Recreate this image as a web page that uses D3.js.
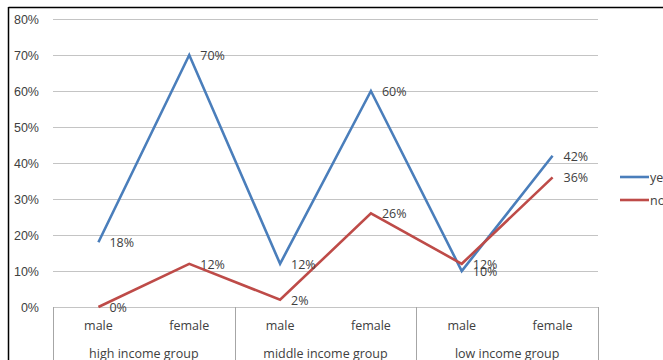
<!DOCTYPE html>
<html>
<head>
<meta charset="utf-8">
<script src="https://cdn.jsdelivr.net/npm/d3@7"></script>
<style>
  html, body { margin: 0; padding: 0; background: #fff; overflow: hidden; }
  svg { display: block; font-family: "Open Sans", "Liberation Sans", sans-serif; }
</style>
</head>
<body>
<svg id="chart" width="663" height="360"></svg>
<script>
// Survey answers by gender within income group
const groups = ["high income group", "middle income group", "low income group"];
const genders = ["male", "female"];
const categories = ["high|male", "high|female", "middle|male", "middle|female", "low|male", "low|female"];
const yesValues = [18, 70, 12, 60, 10, 42];
const noValues = [0, 12, 2, 26, 12, 36];
const yTicks = [0, 10, 20, 30, 40, 50, 60, 70, 80];
const seriesNames = ["yes", "no"];

const colors = { yes: "#4a7ebb", no: "#be4b48" };
const textColor = "#404040";

const svg = d3.select("#chart");
const plot = { left: 53, right: 598, top: 19, bottom: 307 };

const x = d3.scaleBand().domain(categories).range([plot.left, plot.right]).padding(0);
const y = d3.scaleLinear().domain([0, 80]).range([plot.bottom, plot.top]);
const cx = c => x(c) + x.bandwidth() / 2;

// Outer frame (top and left edges visible)
svg.append("line").attr("x1", 8.5).attr("x2", 663).attr("y1", 7.5).attr("y2", 7.5)
  .attr("stroke", "#000").attr("stroke-width", 1.5);
svg.append("line").attr("x1", 8.5).attr("x2", 8.5).attr("y1", 7).attr("y2", 360)
  .attr("stroke", "#000").attr("stroke-width", 1.5);

// Gridlines and y axis labels
const yAxis = d3.axisLeft(y).tickValues(yTicks).tickFormat(d => d + "%")
  .tickSize(-(plot.right - plot.left)).tickPadding(14);
const gy = svg.append("g").attr("transform", `translate(${plot.left},0)`).call(yAxis);
gy.select(".domain").remove();
gy.selectAll(".tick line").attr("stroke", "#c4c4c4").attr("stroke-width", 1.2);
gy.selectAll(".tick text").attr("fill", textColor).attr("font-size", 12.5);

// Category axis: group separators
const sepXs = [0, 2, 4].map(i => x(categories[i])).concat([plot.right]);
svg.selectAll(".sep").data(sepXs).join("line")
  .attr("x1", d => Math.round(d) + 0.5).attr("x2", d => Math.round(d) + 0.5)
  .attr("y1", plot.bottom).attr("y2", 360)
  .attr("stroke", "#a6a6a6").attr("stroke-width", 1);

// Gender labels
svg.selectAll(".cat").data(categories).join("text")
  .attr("x", d => cx(d)).attr("y", 330)
  .attr("text-anchor", "middle").attr("fill", textColor).attr("font-size", 12.5)
  .text(d => d.split("|")[1]);

// Group labels
svg.selectAll(".grp").data(groups).join("text")
  .attr("x", (d, i) => (x(categories[i * 2]) + x(categories[i * 2 + 1]) + x.bandwidth()) / 2)
  .attr("y", 358)
  .attr("text-anchor", "middle").attr("fill", textColor).attr("font-size", 12.5)
  .text(d => d);

// Series lines
const line = d3.line().x((d, i) => cx(categories[i])).y(d => y(d));
const series = [
  { name: "yes", values: yesValues },
  { name: "no", values: noValues }
];
series.forEach(s => {
  svg.append("path").datum(s.values).attr("d", line)
    .attr("fill", "none").attr("stroke", colors[s.name]).attr("stroke-width", 2.6)
    .attr("stroke-linejoin", "miter");
});

// Data labels to the right of each point
series.forEach(s => {
  svg.selectAll(".lbl-" + s.name).data(s.values).join("text")
    .attr("x", (d, i) => cx(categories[i]) + 11)
    .attr("y", d => y(d) + 5)
    .attr("fill", textColor).attr("font-size", 12.5)
    .text(d => d + "%");
});

// Legend
seriesNames.forEach((n, i) => {
  const ly = 177 + i * 23;
  svg.append("line").attr("x1", 620).attr("x2", 649).attr("y1", ly).attr("y2", ly)
    .attr("stroke", colors[n]).attr("stroke-width", 2.6);
  svg.append("text").attr("x", 650).attr("y", ly + 4.5)
    .attr("fill", textColor).attr("font-size", 12.5).text(n);
});
</script>
</body>
</html>
